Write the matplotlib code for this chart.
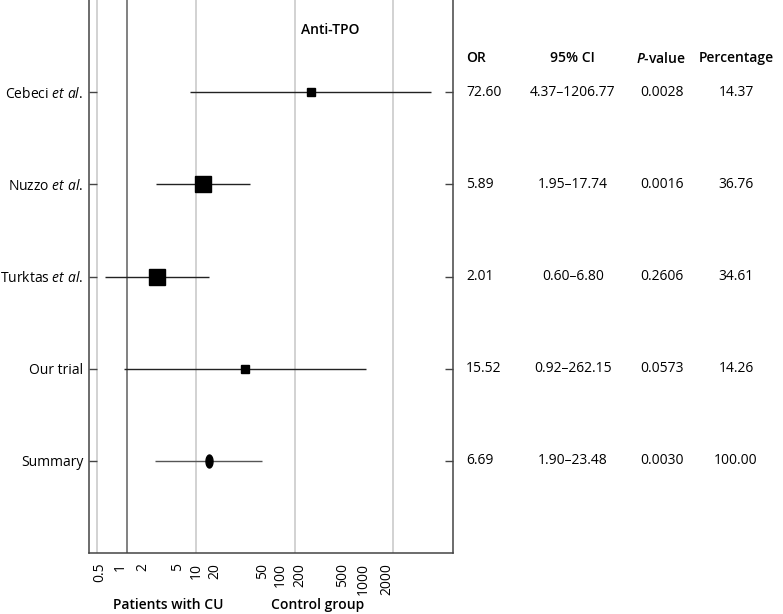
import matplotlib
matplotlib.use("Agg")
import matplotlib.pyplot as plt
import matplotlib.transforms as mtransforms
from matplotlib.path import Path
import numpy as np

FONT = 'Open Sans'
plt.rcParams['font.family'] = [FONT, 'DejaVu Sans']
plt.rcParams['mathtext.fontset'] = 'custom'
plt.rcParams['mathtext.rm'] = FONT
plt.rcParams['mathtext.it'] = FONT + ':italic'
plt.rcParams['mathtext.bf'] = FONT + ':bold'
plt.rcParams['mathtext.bfit'] = FONT + ':italic:semibold'

# ---- data ----
studies = [r"Cebeci $\mathit{et\ al.}$", r"Nuzzo $\mathit{et\ al.}$",
           r"Turktas $\mathit{et\ al.}$", "Our trial", "Summary"]
odds_ratio = [72.60, 5.89, 2.01, 15.52, 6.69]
ci_low = [4.37, 1.95, 0.60, 0.92, 1.90]
ci_high = [1206.77, 17.74, 6.80, 262.15, 23.48]
p_values = ["0.0028", "0.0016", "0.2606", "0.0573", "0.0030"]
weights = [14.37, 36.76, 34.61, 14.26, 100.00]
or_text = ["72.60", "5.89", "2.01", "15.52", "6.69"]
ci_text = ["4.37\u20131206.77", "1.95\u201317.74", "0.60\u20136.80",
           "0.92\u2013262.15", "1.90\u201323.48"]
pct_text = ["14.37", "36.76", "34.61", "14.26", "100.00"]
tick_labels = ["0.5", "1", "2", "5", "10", "20", "50", "100", "200", "500", "1000", "2000"]
# positions where the reference prints the tick labels (data units on the log axis)
tick_label_pos = [0.532, 0.849, 1.45, 3.21, 5.01, 7.80, 23.4, 35.6, 56.8, 155, 248, 433]
grid_light = [0.5, 5, 50, 500]
null_line = 1

W, H = 783, 614
FS = 10
fig = plt.figure(figsize=(W / 100, H / 100), dpi=100)
ax = fig.add_axes([89 / W, 1 - 553 / H, (453 - 89) / W, 553 / H])
ax.set_xscale('log')
ax.set_xlim(0.41, 2025)
ax.set_ylim(6, 0)

for g in grid_light:
    ax.axvline(g, color='#cfcfcf', lw=1.3, zorder=0)
ax.axvline(null_line, color='#5f5f5f', lw=1.1, zorder=0)

ypos = np.arange(1, len(studies) + 1)
n_studies = len(studies) - 1
for i in range(len(studies)):
    y = ypos[i]
    col = '#222222' if i < n_studies else '#555555'
    ax.plot([ci_low[i], ci_high[i]], [y, y], color=col, lw=1.0, zorder=2,
            solid_capstyle='butt')
    if i < n_studies:
        side_px = 3 + 0.35 * weights[i]
        ax.plot(odds_ratio[i], y, marker='s', color='black',
                markersize=side_px * 0.72, zorder=3, linestyle='none')
    else:
        t = np.linspace(0, 2 * np.pi, 60)
        verts = np.column_stack([0.54 * np.cos(t), np.sin(t)])
        ell = Path(verts, closed=True)
        ax.plot(odds_ratio[i], y, marker=ell, color='black',
                markersize=13 * 0.72, zorder=3, linestyle='none')

ax.set_yticks(ypos)
ax.set_yticklabels(studies, fontsize=FS)
ax.tick_params(axis='y', which='both', left=True, right=True, direction='in',
               length=6, width=1, color='#444444', pad=4)
ax.set_xticks(tick_label_pos)
ax.set_xticklabels(tick_labels, rotation=90, fontsize=FS)
ax.xaxis.set_minor_locator(matplotlib.ticker.NullLocator())
ax.tick_params(axis='x', which='both', length=0, pad=7)

for s in ['left', 'right', 'bottom']:
    ax.spines[s].set_color('#444444')
    ax.spines[s].set_linewidth(1.1)
ax.spines['top'].set_visible(False)

ax.text((330 - 89) / (453 - 89), 1 - 30 / 553, "Anti-TPO", transform=ax.transAxes,
        ha='center', va='center', fontsize=FS, fontweight='semibold')

# table
tr = mtransforms.blended_transform_factory(fig.transFigure, ax.transData)
hdr_y = 0.63
ax.text(466 / W, hdr_y, "OR", transform=tr, ha='left', va='center',
        fontsize=FS, fontweight='semibold')
ax.text(572 / W, hdr_y, "95% CI", transform=tr, ha='center', va='center',
        fontsize=FS, fontweight='semibold')
ax.text(661 / W, hdr_y, r"$\mathbfit{P}$-value", transform=tr, ha='center', va='center',
        fontsize=FS, fontweight='semibold')
ax.text(736 / W, hdr_y, "Percentage", transform=tr, ha='center', va='center',
        fontsize=FS, fontweight='semibold')
for i in range(len(studies)):
    y = ypos[i]
    ax.text(466 / W, y, or_text[i], transform=tr, ha='left', va='center', fontsize=FS)
    ax.text(573 / W, y, ci_text[i], transform=tr, ha='center', va='center', fontsize=FS)
    ax.text(662 / W, y, p_values[i], transform=tr, ha='center', va='center', fontsize=FS)
    ax.text(736 / W, y, pct_text[i], transform=tr, ha='center', va='center', fontsize=FS)

fig.text(168 / W, 1 - 605 / H, "Patients with CU", ha='center', va='center',
         fontsize=FS, fontweight='semibold')
fig.text(318 / W, 1 - 605 / H, "Control group", ha='center', va='center',
         fontsize=FS, fontweight='semibold')

fig.savefig("out.png", dpi=100)
